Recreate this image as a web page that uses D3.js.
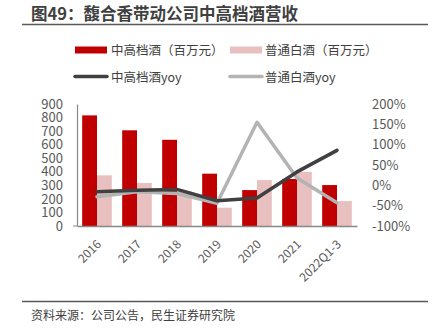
<!DOCTYPE html>
<html><head><meta charset="utf-8">
<script src="https://cdn.jsdelivr.net/npm/d3@7"></script>
<style>body{margin:0;background:#fff;} text{font-family:"Noto Sans CJK SC","Noto Sans",sans-serif;}</style>
</head><body>
<svg id="c" width="439" height="336"></svg>
<script>
const categories = ["2016","2017","2018","2019","2020","2021","2022Q1-3"];
const midHigh = [816, 706, 636, 386, 265, 347, 302];
const regular = [374, 317, 255, 135, 339, 400, 184];
const midHighYoy = [-16, -12, -10, -38, -31, 33, 86];
const regularYoy = [-28, -16, -20, -44, 155, 18, -43];
const leftTicks = [0,100,200,300,400,500,600,700,800,900];
const rightTicks = [-100,-50,0,50,100,150,200];

const svg = d3.select("#c");
const L = 77, R = 357, T = 104, B = 226;
const x = d3.scaleBand().domain(categories).range([L, R]);
const yL = d3.scaleLinear().domain([0, 900]).range([B, T]);
const yR = d3.scaleLinear().domain([-100, 200]).range([B, T]);
const inner = d3.scaleBand().domain([0,1]).range([0, x.bandwidth()]).paddingInner(0).paddingOuter(0.35);

// Title
svg.append("text").attr("x", 31).attr("y", 20).attr("font-size", 16.5).attr("font-weight", "bold")
  .attr("fill", "#404040").text("图49：馥合香带动公司中高档酒营收");
svg.append("line").attr("x1", 22).attr("x2", 428).attr("y1", 24.5).attr("y2", 24.5)
  .attr("stroke", "#595959").attr("stroke-width", 1.3);

// Legend
const lg = svg.append("g");
lg.append("rect").attr("x", 75).attr("y", 46.5).attr("width", 32).attr("height", 7).attr("fill", "#C00000");
lg.append("text").attr("x", 111).attr("y", 55).attr("font-size", 12.5).attr("fill", "#404040").text("中高档酒（百万元）");
lg.append("rect").attr("x", 230).attr("y", 46.5).attr("width", 32).attr("height", 7).attr("fill", "#E9C0C0");
lg.append("text").attr("x", 265).attr("y", 55).attr("font-size", 12.5).attr("fill", "#404040").text("普通白酒（百万元）");
lg.append("line").attr("x1", 75).attr("x2", 107).attr("y1", 76.5).attr("y2", 76.5).attr("stroke", "#404040").attr("stroke-width", 3.5).attr("stroke-linecap","round");
lg.append("text").attr("x", 111).attr("y", 82).attr("font-size", 12.5).attr("fill", "#404040").text("中高档酒yoy");
lg.append("line").attr("x1", 230).attr("x2", 262).attr("y1", 76.5).attr("y2", 76.5).attr("stroke", "#B3B3B3").attr("stroke-width", 3.5).attr("stroke-linecap","round");
lg.append("text").attr("x", 265).attr("y", 82).attr("font-size", 12.5).attr("fill", "#404040").text("普通白酒yoy");

// Bars
svg.append("g").selectAll("rect").data(midHigh).join("rect")
  .attr("x", (d,i) => x(categories[i]) + inner(0)).attr("width", inner.bandwidth())
  .attr("y", d => yL(d)).attr("height", d => B - yL(d)).attr("fill", "#C00000");
svg.append("g").selectAll("rect").data(regular).join("rect")
  .attr("x", (d,i) => x(categories[i]) + inner(1)).attr("width", inner.bandwidth())
  .attr("y", d => yL(d)).attr("height", d => B - yL(d)).attr("fill", "#E9C0C0");

// Axes
const axL = svg.append("g").attr("transform", `translate(${L},0)`)
  .call(d3.axisLeft(yL).tickValues(leftTicks).tickSize(0).tickPadding(14));
axL.select(".domain").attr("stroke", "#888").attr("stroke-width", 1.2);
axL.selectAll("text").attr("font-size", 13).attr("fill", "#595959").attr("font-family", "'Open Sans','Noto Sans',sans-serif");

const axR = svg.append("g").attr("transform", `translate(${R},0)`)
  .call(d3.axisRight(yR).tickValues(rightTicks).tickSize(0).tickPadding(15).tickFormat(d => d + "%"));
axR.select(".domain").remove();
axR.selectAll("text").attr("font-size", 13).attr("fill", "#595959").attr("font-family", "'Open Sans','Noto Sans',sans-serif");

const axB = svg.append("g").attr("transform", `translate(0,${B})`)
  .call(d3.axisBottom(x).tickSize(0).tickPadding(6));
axB.select(".domain").attr("stroke", "#888").attr("stroke-width", 1.5);
axB.selectAll("text").attr("font-size", 12).attr("fill", "#595959")
  .attr("font-family", "'Open Sans','Noto Sans',sans-serif")
  .attr("text-anchor", "end").attr("y", 0).attr("dy", "0.35em")
  .attr("transform", "translate(2,16) rotate(-45)");
svg.append("line").attr("x1", L-4).attr("x2", L).attr("y1", B).attr("y2", B).attr("stroke", "#888");

// Lines
const line = d3.line().x((d,i) => x(categories[i]) + x.bandwidth()/2).y(d => yR(d));
svg.append("path").datum(regularYoy).attr("d", line).attr("fill", "none")
  .attr("stroke", "#B3B3B3").attr("stroke-width", 3.5).attr("stroke-linejoin", "round").attr("stroke-linecap","round");
svg.append("path").datum(midHighYoy).attr("d", line).attr("fill", "none")
  .attr("stroke", "#404040").attr("stroke-width", 3.5).attr("stroke-linejoin", "round").attr("stroke-linecap","round");

// Footer
svg.append("line").attr("x1", 22).attr("x2", 428).attr("y1", 301.5).attr("y2", 301.5)
  .attr("stroke", "#595959").attr("stroke-width", 1.3);
svg.append("text").attr("x", 31).attr("y", 319.5).attr("font-size", 12).attr("fill", "#404040")
  .text("资料来源：公司公告，民生证券研究院");
</script>
</body></html>
